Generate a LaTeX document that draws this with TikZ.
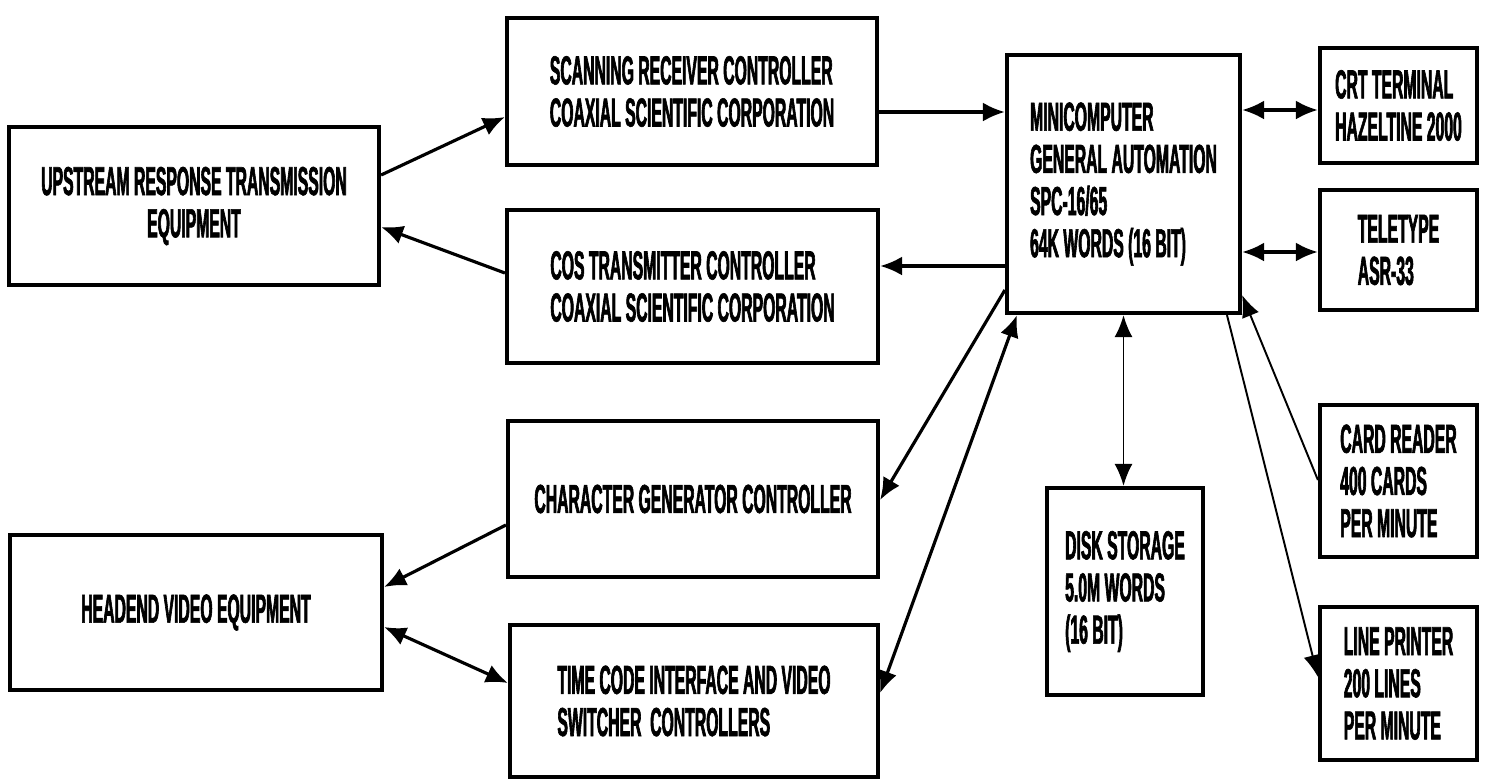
\documentclass[tikz,border=0pt]{standalone}
\usepackage{fontspec}
\setmainfont{Liberation Sans}[FakeStretch=0.39,BoldFeatures={FakeBold=1.5}]
\usetikzlibrary{arrows.meta,positioning,calc}
\tikzset{
  blk/box/.style={
    draw=black,
    line width=2.4pt,
    fill=white,
    align=left,
    text=black,
    inner sep=0pt,
    font=\bfseries\fontsize{23}{24}\selectfont
  },
  blk/arrow/.style={-{Latex[length=4.4mm,width=3.8mm]}, line width=1.8pt},
  blk/both/.style={{Latex[length=4.4mm,width=3.8mm]}-{Latex[length=4.4mm,width=3.8mm]}, line width=1.8pt},
  blk/thinarrow/.style={-{Latex[length=4.4mm,width=3.6mm]}, line width=1.1pt},
  blk/thinboth/.style={{Latex[length=4.4mm,width=3.6mm]}-{Latex[length=4.4mm,width=3.6mm]}, line width=1.1pt}
}
\begin{document}
\begin{tikzpicture}[x=0.02cm,y=-0.02cm]
  \useasboundingbox (0,0) rectangle (1485,779);
  % left column
  \node[blk/box,align=center,minimum width=7.4cm,minimum height=3.16cm] (ups) at (194,206)
    {UPSTREAM RESPONSE TRANSMISSION\\EQUIPMENT};
  \node[blk/box,minimum width=7.44cm,minimum height=3.1cm] (head) at (196,612.5)
    {HEADEND VIDEO EQUIPMENT};
  % controllers
  \node[blk/box,minimum width=7.4cm,minimum height=2.94cm] (scan) at (692,91.5)
    {SCANNING RECEIVER CONTROLLER\\COAXIAL SCIENTIFIC CORPORATION};
  \node[blk/box,minimum width=7.42cm,minimum height=3.06cm] (cos) at (692.5,286.5)
    {COS TRANSMITTER CONTROLLER\\COAXIAL SCIENTIFIC CORPORATION};
  \node[blk/box,minimum width=7.4cm,minimum height=3.12cm] (chg) at (693,499)
    {CHARACTER GENERATOR CONTROLLER};
  \node[blk/box,minimum width=7.36cm,minimum height=3.04cm] (tc) at (694,701)
    {TIME CODE INTERFACE AND VIDEO\\SWITCHER\ \ CONTROLLERS};
  % computer and storage
  \node[blk/box,minimum width=4.66cm,minimum height=5.16cm] (mini) at (1123.5,184)
    {MINICOMPUTER\\GENERAL AUTOMATION\\SPC-16/65\\64K WORDS (16 BIT)};
  \node[blk/box,minimum width=3.12cm,minimum height=4.14cm] (disk) at (1125,591.5)
    {DISK STORAGE\\5.0M WORDS\\(16 BIT)};
  % peripherals
  \foreach \nm/\y/\h/\txt in {
    crt/105.5/2.3/{CRT TERMINAL\\HAZELTINE 2000},
    tty/250/2.4/{TELETYPE\\ASR-33},
    card/481/3.04/{CARD READER\\400 CARDS\\PER MINUTE},
    lp/683.5/3.06/{LINE PRINTER\\200 LINES\\PER MINUTE}}
  {\node[blk/box,minimum width=3.14cm,minimum height=\h cm] (\nm) at (1398.5,\y) {\txt};}

  \draw[blk/arrow] (ups.east |- 0,175) -- (scan.west |- 0,117);
  \draw[blk/arrow] (cos.west |- 0,273) -- (ups.east |- 0,227);
  \draw[blk/arrow] (scan.east |- 0,112) -- (mini.west |- 0,112);
  \draw[blk/arrow] (mini.west |- 0,266) -- (cos.east |- 0,266);
  \draw[blk/both] (mini.east |- 0,110) -- (crt.west |- 0,110);
  \draw[blk/both] (mini.east |- 0,252) -- (tty.west |- 0,252);
  \draw[blk/thinboth] (mini.south) -- (disk.north -| mini.south);
  \draw[blk/arrow] (mini.west |- 0,290) -- (chg.east |- 0,500);
  \draw[blk/both] (tc.east |- 0,693) -- (mini.south -| 1017,0);
  \draw[blk/thinarrow] (card.west |- 0,480) -- (mini.east |- 0,295);
  \draw[blk/thinarrow] (mini.south -| 1227,0) -- (lp.west |- 0,677);
  \draw[blk/arrow] (chg.west |- 0,525) -- (head.east |- 0,587);
  \draw[blk/both] (head.east |- 0,627) -- (tc.west |- 0,683);
\end{tikzpicture}
\end{document}
